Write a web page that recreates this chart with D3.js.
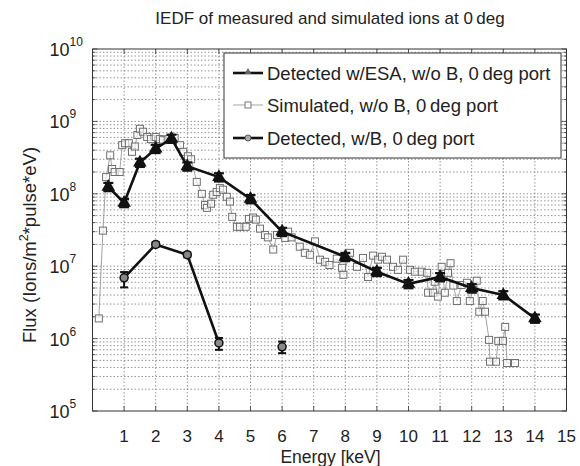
<!DOCTYPE html>
<html>
<head>
<meta charset="utf-8">
<title>IEDF</title>
<script src="https://d3js.org/d3.v7.min.js"></script>
<style>
  body { margin: 0; background: #fff; }
  text { font-family: "Liberation Sans", Arial, sans-serif; fill: #222; }
</style>
</head>
<body>
<div id="chart"></div>
<script>
// Detected w/ESA, w/o B, 0 deg port
var esaEnergy = [0.5, 1, 1.5, 2, 2.5, 3, 4, 5, 6, 8, 9, 10, 11, 12, 13, 14];
var esaFlux = [1.25e8, 7.5e7, 2.7e8, 4.2e8, 5.8e8, 2.4e8, 1.7e8, 8.5e7, 3.0e7, 1.35e7, 8.4e6, 5.7e6, 7.1e6, 5.0e6, 4.0e6, 1.9e6];

// Simulated, w/o B, 0 deg port
var simEnergy = [0.2, 0.33, 0.43, 0.56, 0.62, 0.70, 0.86, 0.94, 1.03, 1.15, 1.25, 1.34, 1.42, 1.5, 1.6, 1.73, 1.85, 2.0, 2.13, 2.23, 2.4, 2.6, 2.77, 2.87, 3.02, 3.12, 3.3, 3.46, 3.56, 3.62, 3.75, 3.82, 3.93, 4.03, 4.13, 4.25, 4.35, 4.42, 4.57, 4.67, 4.85, 4.95, 5.08, 5.17, 5.3, 5.46, 5.55, 5.72, 5.84, 6.1, 6.19, 6.3, 6.56, 6.72, 6.88, 7.04, 7.2, 7.36, 7.5, 7.73, 7.9, 7.94, 8.15, 8.37, 8.56, 8.72, 8.88, 9.04, 9.16, 9.32, 9.51, 9.67, 9.83, 10.05, 10.2, 10.42, 10.59, 10.62, 10.78, 10.83, 10.93, 11.05, 11.15, 11.25, 11.33, 11.42, 11.53, 11.68, 11.85, 11.94, 12.04, 12.16, 12.24, 12.35, 12.42, 12.55, 12.58, 12.77, 12.84, 12.99, 13.06, 13.12, 13.37];
var simFlux = [1.9e6, 3.1e7, 1.7e8, 3.4e8, 2.2e8, 2.0e8, 2.0e8, 4.7e8, 5.0e8, 5.0e8, 3.8e8, 4.5e8, 6.5e8, 7.9e8, 7.2e8, 6.1e8, 5.7e8, 6.1e8, 5.7e8, 5.5e8, 5.7e8, 5.9e8, 4.7e8, 3.8e8, 3.3e8, 3.0e8, 1.46e8, 1.0e8, 7.0e7, 6.4e7, 7.3e7, 9.7e7, 1.06e8, 1.2e8, 1.14e8, 9.1e7, 7.8e7, 4.8e7, 3.5e7, 3.5e7, 3.5e7, 4.5e7, 4.7e7, 4.4e7, 3.3e7, 2.7e7, 2.5e7, 1.7e7, 2.7e7, 2.46e7, 3.0e7, 2.5e7, 1.86e7, 1.53e7, 1.44e7, 2.2e7, 1.23e7, 1.15e7, 1.04e7, 1.27e7, 9.5e6, 7.6e6, 1.53e7, 9.8e6, 1.3e7, 7.1e6, 1.4e7, 1.23e7, 1.35e7, 1.23e7, 9.8e6, 8.9e6, 1.23e7, 8.9e6, 8.4e6, 8.4e6, 8.1e6, 4.3e6, 4.3e6, 6.1e6, 3.8e6, 9.8e6, 4.3e6, 8.1e6, 1.1e7, 5.4e6, 3.3e6, 5.5e6, 5.9e6, 3.3e6, 4.7e6, 6.3e6, 2.35e6, 3.3e6, 2.35e6, 9.6e5, 4.8e5, 4.8e5, 9.3e5, 9.3e5, 1.45e6, 4.6e5, 4.6e5];

// Detected, w/B, 0 deg port (connected part)
var bEnergy = [1, 2, 3, 4];
var bFlux = [6.9e6, 2.0e7, 1.44e7, 8.7e5];
var bLow = [5.1e6, 1.85e7, 1.33e7, 7.0e5];
var bHigh = [8.3e6, 2.15e7, 1.55e7, 1.02e6];
// lone measurement at 6 keV
var bLoneEnergy = [6];
var bLoneFlux = [7.7e5];
var bLoneLow = [6.3e5];
var bLoneHigh = [9.1e5];

var xTicks = [1, 2, 3, 4, 5, 6, 7, 8, 9, 10, 11, 12, 13, 14, 15];
var yDecades = [5, 6, 7, 8, 9, 10];
var legendLabels = ["Detected w/ESA, w/o B, 0\u2009deg port", "Simulated, w/o B, 0\u2009deg port", "Detected, w/B, 0\u2009deg port"];

var W = 580, H = 466;
var margin = {top: 49, right: 13.5, bottom: 55, left: 92.5};
var width = W - margin.left - margin.right,
    height = H - margin.top - margin.bottom;

var svg = d3.select("#chart")
  .append("svg")
    .attr("width", W)
    .attr("height", H);

var g = svg.append("g")
    .attr("transform", "translate(" + margin.left + "," + margin.top + ")");

var x = d3.scaleLinear().domain([0, 15]).range([0, width]);
var y = d3.scaleLog().domain([1e5, 1e10]).range([height, 0]);

// grid lines (minor log lines + decades + integer energies)
var minor = [];
yDecades.slice(0, -1).forEach(function(e) {
  for (var m = 2; m <= 9; m++) minor.push(m * Math.pow(10, e));
});
var grid = g.append("g").attr("stroke", "#7a7a7a").attr("stroke-width", 0.8).attr("stroke-dasharray", "1.5,2");
grid.selectAll(".hg")
  .data(minor.concat(yDecades.slice(1, -1).map(function(e) { return Math.pow(10, e); })))
  .enter().append("line")
    .attr("x1", 0).attr("x2", width)
    .attr("y1", function(d) { return y(d); }).attr("y2", function(d) { return y(d); });
grid.selectAll(".vg")
  .data(xTicks.slice(0, -1))
  .enter().append("line")
    .attr("y1", 0).attr("y2", height)
    .attr("x1", function(d) { return x(d); }).attr("x2", function(d) { return x(d); });

// tick marks on all four sides
var ticks = g.append("g").attr("stroke", "#333").attr("stroke-width", 0.8);
xTicks.slice(0, -1).forEach(function(d) {
  ticks.append("line").attr("x1", x(d)).attr("x2", x(d)).attr("y1", height).attr("y2", height - 5);
  ticks.append("line").attr("x1", x(d)).attr("x2", x(d)).attr("y1", 0).attr("y2", 5);
});
minor.forEach(function(d) {
  ticks.append("line").attr("x1", 0).attr("x2", 3).attr("y1", y(d)).attr("y2", y(d));
  ticks.append("line").attr("x1", width).attr("x2", width - 3).attr("y1", y(d)).attr("y2", y(d));
});
yDecades.forEach(function(e) {
  var yy = y(Math.pow(10, e));
  ticks.append("line").attr("x1", 0).attr("x2", 5).attr("y1", yy).attr("y2", yy);
  ticks.append("line").attr("x1", width).attr("x2", width - 5).attr("y1", yy).attr("y2", yy);
});

// frame
g.append("rect")
  .attr("width", width).attr("height", height)
  .attr("fill", "none").attr("stroke", "#333").attr("stroke-width", 1);

// x tick labels
g.selectAll(".xl")
  .data(xTicks)
  .enter().append("text")
    .attr("x", function(d) { return x(d); })
    .attr("y", height + 31)
    .attr("text-anchor", "middle")
    .style("font-size", "17px")
    .text(function(d) { return d; });

// y tick labels 10^n, left aligned like matlab does here
yDecades.forEach(function(e) {
  var t = g.append("text")
    .attr("x", -43)
    .attr("y", y(Math.pow(10, e)) + 7)
    .style("font-size", "18px")
    .text("10");
  t.append("tspan")
    .attr("dy", -10)
    .style("font-size", "12px")
    .text(e);
});

// axis titles
svg.append("text")
  .attr("x", margin.left + width / 2 + 1)
  .attr("y", H - 3)
  .attr("text-anchor", "middle")
  .style("font-size", "17.5px")
  .text("Energy [keV]");

var yl = svg.append("text")
  .attr("transform", "translate(36," + (margin.top + height / 2 + 15) + ") rotate(-90)")
  .attr("text-anchor", "middle")
  .style("font-size", "18.5px")
  .text("Flux (Ions/m");
yl.append("tspan").attr("dy", -8).style("font-size", "12.5px").text("2");
yl.append("tspan").attr("dy", 8).text("*pulse*eV)");

svg.append("text")
  .attr("x", 330)
  .attr("y", 24)
  .attr("text-anchor", "middle")
  .style("font-size", "17px")
  .text("IEDF of measured and simulated ions at 0\u2009deg");

var line = d3.line()
  .x(function(d) { return x(d[0]); })
  .y(function(d) { return y(d[1]); });

// simulated series
var simData = d3.zip(simEnergy, simFlux);
g.append("path")
  .datum(simData)
  .attr("d", line)
  .attr("fill", "none")
  .attr("stroke", "#999")
  .attr("stroke-width", 0.9);
g.selectAll(".sim")
  .data(simData)
  .enter().append("rect")
    .attr("x", function(d) { return x(d[0]) - 3.5; })
    .attr("y", function(d) { return y(d[1]) - 3.5; })
    .attr("width", 7).attr("height", 7)
    .attr("fill", "white")
    .attr("fill-opacity", 0.6)
    .attr("stroke", "#6f6f6f")
    .attr("stroke-width", 1);

// detected with ESA
var esaData = d3.zip(esaEnergy, esaFlux);
g.append("path")
  .datum(esaData)
  .attr("d", line)
  .attr("fill", "none")
  .attr("stroke", "#111")
  .attr("stroke-width", 2.6);
var tri = d3.symbol().type(d3.symbolTriangle).size(80);
esaData.forEach(function(d) {
  var px = x(d[0]), lo = y(d[1] * 0.87), hi = y(d[1] * 1.13);
  g.append("line").attr("x1", px).attr("x2", px).attr("y1", lo).attr("y2", hi).attr("stroke", "#111").attr("stroke-width", 2.2);
  g.append("line").attr("x1", px - 5).attr("x2", px + 5).attr("y1", lo).attr("y2", lo).attr("stroke", "#111").attr("stroke-width", 2.2);
  g.append("line").attr("x1", px - 5).attr("x2", px + 5).attr("y1", hi).attr("y2", hi).attr("stroke", "#111").attr("stroke-width", 2.2);
  g.append("path").attr("d", tri)
    .attr("transform", "translate(" + px + "," + y(d[1]) + ")")
    .attr("fill", "#111");
});

// detected with B
var bData = d3.zip(bEnergy, bFlux, bLow, bHigh);
var loneData = d3.zip(bLoneEnergy, bLoneFlux, bLoneLow, bLoneHigh);
g.append("path")
  .datum(bData)
  .attr("d", line)
  .attr("fill", "none")
  .attr("stroke", "#111")
  .attr("stroke-width", 2.6);
bData.concat(loneData).forEach(function(d) {
  var px = x(d[0]);
  g.append("line").attr("x1", px).attr("x2", px).attr("y1", y(d[2])).attr("y2", y(d[3])).attr("stroke", "#111").attr("stroke-width", 2);
  g.append("line").attr("x1", px - 4).attr("x2", px + 4).attr("y1", y(d[2])).attr("y2", y(d[2])).attr("stroke", "#111").attr("stroke-width", 2);
  g.append("line").attr("x1", px - 4).attr("x2", px + 4).attr("y1", y(d[3])).attr("y2", y(d[3])).attr("stroke", "#111").attr("stroke-width", 2);
  g.append("circle")
    .attr("cx", px).attr("cy", y(d[1])).attr("r", 4)
    .attr("fill", "#888").attr("stroke", "#111").attr("stroke-width", 1.5);
});

// legend
var lg = svg.append("g");
lg.append("rect")
  .attr("x", 224).attr("y", 53).attr("width", 337).attr("height", 105)
  .attr("fill", "white").attr("stroke", "#333").attr("stroke-width", 1);
var rowY = [73, 105, 138];
legendLabels.forEach(function(lab, i) {
  var ly = rowY[i];
  var thin = (i == 1);
  lg.append("line")
    .attr("x1", 233).attr("x2", 263).attr("y1", ly).attr("y2", ly)
    .attr("stroke", thin ? "#999" : "#111")
    .attr("stroke-width", thin ? 0.9 : 2.6);
  if (i == 0) {
    lg.append("path").attr("d", d3.symbol().type(d3.symbolTriangle).size(20))
      .attr("transform", "translate(248," + (ly - 1) + ")").attr("fill", "#666");
  } else if (i == 1) {
    lg.append("rect").attr("x", 245).attr("y", ly - 3).attr("width", 6).attr("height", 6)
      .attr("fill", "white").attr("stroke", "#777");
  } else {
    lg.append("circle").attr("cx", 248).attr("cy", ly).attr("r", 3)
      .attr("fill", "#aaa").attr("stroke", "#555");
  }
  lg.append("text")
    .attr("x", 267).attr("y", ly + 6.5)
    .style("font-size", "18.5px")
    .text(lab);
});
</script>
</body>
</html>
